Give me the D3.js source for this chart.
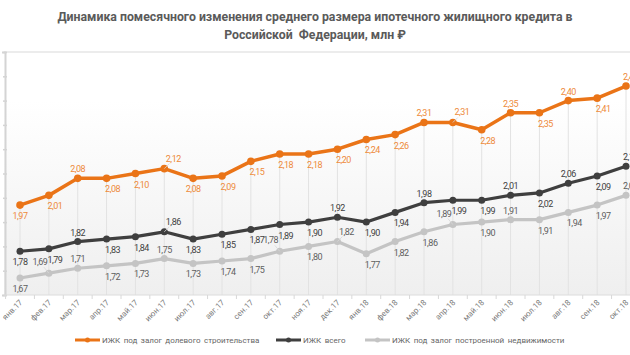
<!DOCTYPE html>
<html><head><meta charset="utf-8">
<script src="https://cdn.jsdelivr.net/npm/d3@7"></script>
<style>body{margin:0;background:#fff}svg{display:block}text{font-family:Roboto,"Noto Sans",sans-serif}</style>
</head><body>
<svg id="c" width="630" height="355"></svg>
<script>
const months = ["янв.17","фев.17","мар.17","апр.17","май.17","июн.17","июл.17","авг.17","сен.17","окт.17","ноя.17","дек.17","янв.18","фев.18","мар.18","апр.18","май.18","июн.18","июл.18","авг.18","сен.18","окт.18"];
const shared = [1.97,2.01,2.08,2.08,2.10,2.12,2.08,2.09,2.15,2.18,2.18,2.20,2.24,2.26,2.31,2.31,2.28,2.35,2.35,2.40,2.41,2.46];
const total  = [1.78,1.79,1.82,1.83,1.84,1.86,1.83,1.85,1.87,1.89,1.90,1.92,1.90,1.94,1.98,1.99,1.99,2.01,2.02,2.06,2.09,2.13];
const built  = [1.67,1.69,1.71,1.72,1.73,1.75,1.73,1.74,1.75,1.78,1.80,1.82,1.77,1.82,1.86,1.89,1.90,1.91,1.91,1.94,1.97,2.01];
const seriesNames = ["ИЖК под залог долевого строительства","ИЖК всего","ИЖК под залог построенной недвижимости"];
const yTicks = [1.6,1.7,1.8,1.9,2.0,2.1,2.2,2.3,2.4,2.5,2.6];
// label placement: b = below, br = below-right, a = above, al = above-left, ar = above-right, e = at right edge
const placeShared = ["b","br","a","br","br","ar","b","br","br","br","br","br","br","br","a","ar","br","a","br","a","br","e"];
const placeTotal  = ["b","br","a","br","br","ar","b","br","br","br","br","a","br","br","a","br","br","a","br","a","br","e"];
const placeBuilt  = ["b","al","a","br","br","a","b","br","br","al","br","ar","br","br","br","al","br","a","br","br","br","e"];

const svg = d3.select("#c");
const x = d3.scalePoint().domain(months).range([20,626]);
const y = d3.scaleLinear().domain([1.6,2.6]).range([295,52]);
const fmt = v => d3.format(".2f")(v).replace(".", ",");

const defs = svg.append("defs");
const g = defs.append("linearGradient").attr("id","bg").attr("x1",0).attr("y1",0).attr("x2",0).attr("y2",1);
g.append("stop").attr("offset","0.2").attr("stop-color","#ffffff");
g.append("stop").attr("offset","1").attr("stop-color","#efefef");
svg.append("rect").attr("x",4).attr("y",52).attr("width",626).attr("height",243).attr("fill","url(#bg)");

// title
svg.append("text").attr("x",315).attr("y",21).attr("text-anchor","middle").attr("font-size",12.3).attr("font-weight","bold").attr("fill","#5a5a5a")
  .text("Динамика помесячного изменения среднего размера ипотечного жилищного кредита в");
svg.append("text").attr("x",315).attr("y",39).attr("text-anchor","middle").attr("font-size",12.3).attr("font-weight","bold").attr("fill","#5a5a5a")
  .text("Российской\u00a0 Федерации, млн ₽");

// top border
svg.append("line").attr("x1",4).attr("x2",630).attr("y1",52).attr("y2",52).attr("stroke","#e6e6e6").attr("stroke-width",1.5);

// y axis
const yAxis = svg.append("g").attr("transform","translate(5,0)")
  .call(d3.axisLeft(y).tickValues(yTicks).tickSize(3).tickFormat(""));
yAxis.select(".domain").attr("stroke","#d4d4d4").attr("stroke-width",2);
yAxis.selectAll(".tick line").attr("stroke","#d4d4d4").attr("stroke-width",1.5).attr("x2",2).attr("x1",-2);

// drop lines
svg.append("g").selectAll("line").data(months).join("line")
  .attr("x1",d=>x(d)).attr("x2",d=>x(d))
  .attr("y1",(d,i)=>y(shared[i])).attr("y2",295)
  .attr("stroke","#e2e2e2").attr("stroke-width",1);

// x axis
const step = x.step();
svg.append("line").attr("x1",4).attr("x2",630).attr("y1",295).attr("y2",295).attr("stroke","#dcdcdc");
svg.append("g").selectAll("line").data(months).join("line")
  .attr("x1",d=>x(d)-step/2).attr("x2",d=>x(d)-step/2).attr("y1",295).attr("y2",299).attr("stroke","#d8d8d8");
svg.append("g").selectAll("text").data(months).join("text")
  .attr("transform",d=>`translate(${x(d)+3},303) rotate(-45)`)
  .attr("text-anchor","end").attr("font-size",8).attr("fill","#7a7a7a").text(d=>d);

const series = [
  {vals: built, color:"#c4c4c4", label:"#5e5e5e", w:3.2, r:3.5, place: placeBuilt},
  {vals: total, color:"#3f3f3f", label:"#3f3f3f", w:3.2, r:3.5, place: placeTotal},
  {vals: shared, color:"#ea7417", label:"#ee8a3a", w:3.5, r:3.8, place: placeShared}
];
const line = d3.line().x((d,i)=>x(months[i])).y(d=>y(d));
series.forEach(s=>{
  svg.append("path").datum(s.vals).attr("d",line).attr("fill","none").attr("stroke",s.color).attr("stroke-width",s.w).attr("stroke-linejoin","round");
  svg.append("g").selectAll("circle").data(s.vals).join("circle")
    .attr("cx",(d,i)=>x(months[i])).attr("cy",d=>y(d)).attr("r",s.r).attr("fill",s.color);
});
series.forEach(s=>{
  const lg = svg.append("g");
  s.vals.forEach((v,i)=>{
    const px = x(months[i]), py = y(v), p = s.place[i];
    let lx = px, ly = py + 14, anchor = "middle";
    if (p==="br") lx = px + 6;
    if (p==="a") ly = py - 6;
    if (p==="al") { lx = px - 9; ly = py - 8; }
    if (p==="ar") { lx = px + 9; ly = py - 7; }
    if (p==="e") { lx = px - 3; ly = py - 6; anchor = "start"; }
    if (p==="al"||p==="ar") {
      lg.append("line").attr("x1",px).attr("y1",py).attr("x2",lx + (p==="al"?4:-4)).attr("y2",ly+2)
        .attr("stroke","#d8d8d8").attr("stroke-width",0.8);
    }
    lg.append("text").attr("x",lx).attr("y",ly).attr("text-anchor",anchor).attr("font-size",9)
      .attr("letter-spacing",-0.5).attr("fill",s.label).text(fmt(v));
  });
});

// legend
const legend = [
  {name: seriesNames[0], color:"#ea7417", x:75},
  {name: seriesNames[1], color:"#3f3f3f", x:276},
  {name: seriesNames[2], color:"#c4c4c4", x:365}
];
legend.forEach(l=>{
  svg.append("line").attr("x1",l.x).attr("x2",l.x+25).attr("y1",340).attr("y2",340).attr("stroke",l.color).attr("stroke-width",3);
  svg.append("circle").attr("cx",l.x+12.5).attr("cy",340).attr("r",2.5).attr("fill",l.color);
  svg.append("text").attr("x",l.x+27).attr("y",343).attr("font-size",8).attr("word-spacing",1.5).attr("fill","#666").text(l.name);
});
</script>
</body></html>
